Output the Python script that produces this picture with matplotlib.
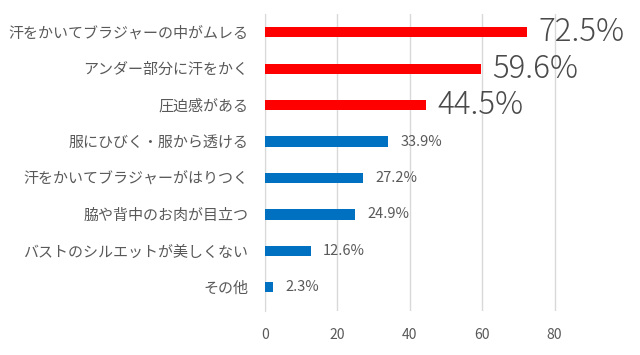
import numpy as np
import matplotlib
matplotlib.use('Agg')
import matplotlib.pyplot as plt

plt.rcParams['font.family'] = ['Noto Sans CJK JP', 'DejaVu Sans']

# データ
categories = [
    '汗をかいてブラジャーの中がムレる',
    'アンダー部分に汗をかく',
    '圧迫感がある',
    '服にひびく・服から透ける',
    '汗をかいてブラジャーがはりつく',
    '脇や背中のお肉が目立つ',
    'バストのシルエットが美しくない',
    'その他',
]
values = [72.5, 59.6, 44.5, 33.9, 27.2, 24.9, 12.6, 2.3]
highlight = [True, True, True, False, False, False, False, False]
x_ticks = [0, 20, 40, 60, 80]

RED = '#FF0000'
BLUE = '#0070C0'
TEXT = '#595959'
GRID = '#D9D9D9'

fig = plt.figure(figsize=(6.4, 3.55), dpi=100)
ax = fig.add_axes([0.414, 0.124, 0.509, 0.8366])

y = np.arange(len(categories))
colors = [RED if h else BLUE for h in highlight]
bars = ax.barh(y, values, height=0.28, color=colors, zorder=3)

for bar, v, h in zip(bars, values, highlight):
    ax.annotate('%.1f%%' % v,
                xy=(bar.get_width(), bar.get_y() + bar.get_height() / 2),
                xytext=(8 if h else 9, 0), textcoords='offset points',
                ha='left', va='center', color='#4a4a4a' if h else TEXT,
                fontsize=22.5 if h else 10.5, fontweight='light' if h else 'normal',
                clip_on=False)

ax.set_xlim(0, 90)
ax.set_ylim(7.65, -0.5)
ax.set_yticks(y)
ax.set_yticklabels(categories, fontsize=10.8, color=TEXT)
ax.set_xticks(x_ticks)
ax.set_xticklabels([str(t) for t in x_ticks], fontsize=10, color=TEXT)
ax.tick_params(axis='y', length=0, pad=12)
ax.tick_params(axis='x', length=0, pad=12)

ax.grid(axis='x', color=GRID, linewidth=1, zorder=0)
for side in ['top', 'right', 'bottom']:
    ax.spines[side].set_visible(False)
ax.spines['left'].set_color(GRID)
ax.spines['left'].set_zorder(1)

fig.savefig('out.png', dpi=100)
